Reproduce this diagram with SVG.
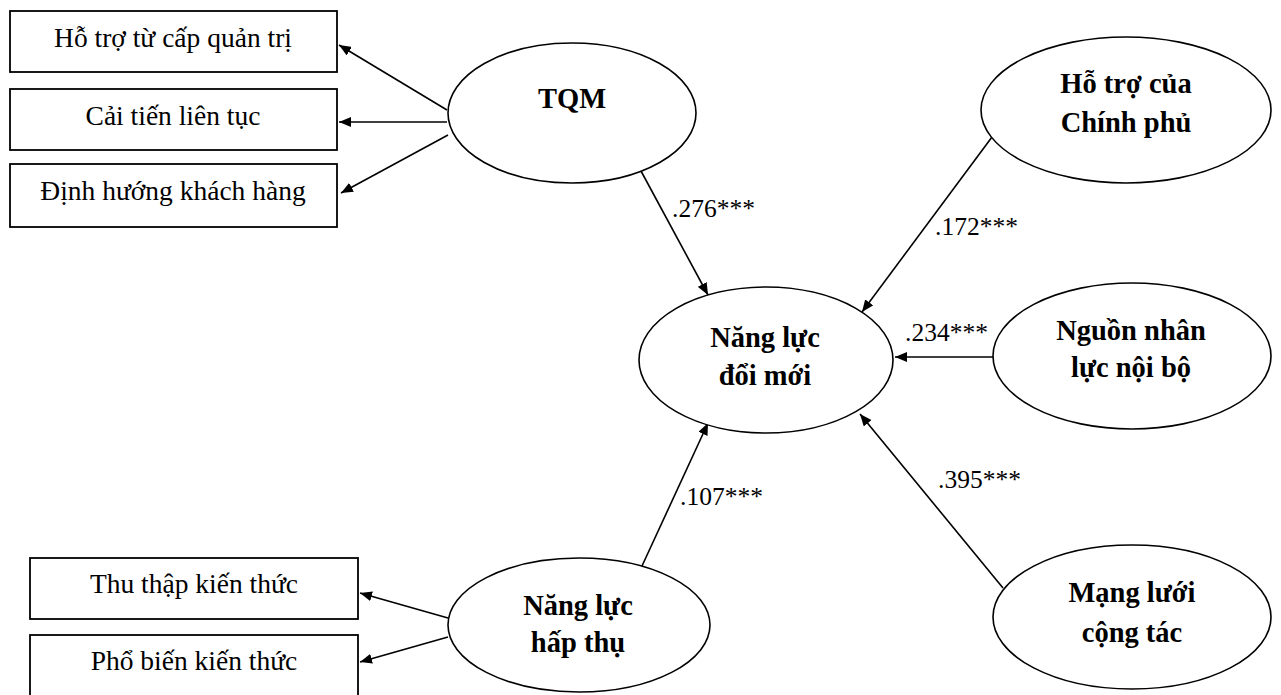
<svg xmlns="http://www.w3.org/2000/svg" width="1281" height="695" viewBox="0 0 1281 695">
  <defs>
    <marker id="arrow" markerUnits="userSpaceOnUse" markerWidth="13" markerHeight="10" refX="12" refY="5" orient="auto">
      <path d="M0,0 L12,5 L0,10 z" fill="#000"/>
    </marker>
    <style>
      .box { fill: #fff; stroke: #000; stroke-width: 1.8; }
      .lat { fill: #fff; stroke: #000; stroke-width: 1.6; }
      .ind { font-family: "Liberation Serif", "Times New Roman", serif; font-size: 27.5px; fill: #000; text-anchor: middle; }
      .latt { font-family: "Liberation Serif", "Times New Roman", serif; font-size: 28.5px; font-weight: bold; fill: #000; text-anchor: middle; }
      .coef { font-family: "Liberation Serif", "Times New Roman", serif; font-size: 25.5px; fill: #000; }
      .conn line { stroke: #000; stroke-width: 1.6; marker-end: url(#arrow); }
    </style>
  </defs>
  <rect width="1281" height="695" fill="#fff"/>

  <!-- connectors -->
  <g id="connectors" class="conn">
    <line x1="447" y1="110" x2="339" y2="45"/>
    <line x1="447" y1="122" x2="339" y2="122"/>
    <line x1="448" y1="135" x2="341" y2="193"/>
    <line x1="448" y1="618" x2="360" y2="593"/>
    <line x1="448" y1="637" x2="360" y2="662"/>
    <line x1="641" y1="171" x2="708" y2="295"/>
    <line x1="992" y1="137" x2="862" y2="312"/>
    <line x1="993" y1="357" x2="895" y2="357"/>
    <line x1="1003" y1="588" x2="860" y2="414"/>
    <line x1="642" y1="566" x2="708" y2="423"/>
  </g>

  <!-- path coefficients -->
  <g id="coefficients">
    <text class="coef" x="672" y="217">.276***</text>
    <text class="coef" x="935" y="235">.172***</text>
    <text class="coef" x="905" y="341">.234***</text>
    <text class="coef" x="938" y="488">.395***</text>
    <text class="coef" x="680" y="505">.107***</text>
  </g>

  <!-- indicator boxes -->
  <g id="ind-hotro-quantri">
    <rect class="box" x="10" y="11" width="327" height="61"/>
    <text class="ind" x="173" y="47">Hỗ trợ từ cấp quản trị</text>
  </g>
  <g id="ind-caitien">
    <rect class="box" x="10" y="89" width="327" height="61"/>
    <text class="ind" x="173" y="125">Cải tiến liên tục</text>
  </g>
  <g id="ind-dinhhuong">
    <rect class="box" x="10" y="164" width="327" height="63"/>
    <text class="ind" x="173" y="200">Định hướng khách hàng</text>
  </g>
  <g id="ind-thuthap">
    <rect class="box" x="30" y="558" width="328" height="61"/>
    <text class="ind" x="194" y="593">Thu thập kiến thức</text>
  </g>
  <g id="ind-phobien">
    <rect class="box" x="30" y="635" width="328" height="70"/>
    <text class="ind" x="194" y="670">Phổ biến kiến thức</text>
  </g>

  <!-- latent constructs -->
  <g id="tqm">
    <ellipse class="lat" cx="572" cy="113" rx="124" ry="70"/>
    <text class="latt" x="572" y="108">TQM</text>
  </g>
  <g id="hotro-chinhphu">
    <ellipse class="lat" cx="1126" cy="110" rx="145" ry="73"/>
    <text class="latt" x="1126" y="93">Hỗ trợ của</text>
    <text class="latt" x="1126" y="132">Chính phủ</text>
  </g>
  <g id="nangluc-doimoi">
    <ellipse class="lat" cx="766" cy="360" rx="127" ry="73"/>
    <text class="latt" x="765" y="347">Năng lực</text>
    <text class="latt" x="765" y="385">đổi mới</text>
  </g>
  <g id="nguon-nhanluc">
    <ellipse class="lat" cx="1132" cy="356" rx="139" ry="73"/>
    <text class="latt" x="1131" y="340">Nguồn nhân</text>
    <text class="latt" x="1131" y="377">lực nội bộ</text>
  </g>
  <g id="mangluoi">
    <ellipse class="lat" cx="1132" cy="617" rx="139" ry="72"/>
    <text class="latt" x="1132" y="602">Mạng lưới</text>
    <text class="latt" x="1132" y="642">cộng tác</text>
  </g>
  <g id="nangluc-hapthu">
    <ellipse class="lat" cx="579" cy="625" rx="131" ry="67"/>
    <text class="latt" x="578" y="615">Năng lực</text>
    <text class="latt" x="578" y="652">hấp thụ</text>
  </g>
</svg>
